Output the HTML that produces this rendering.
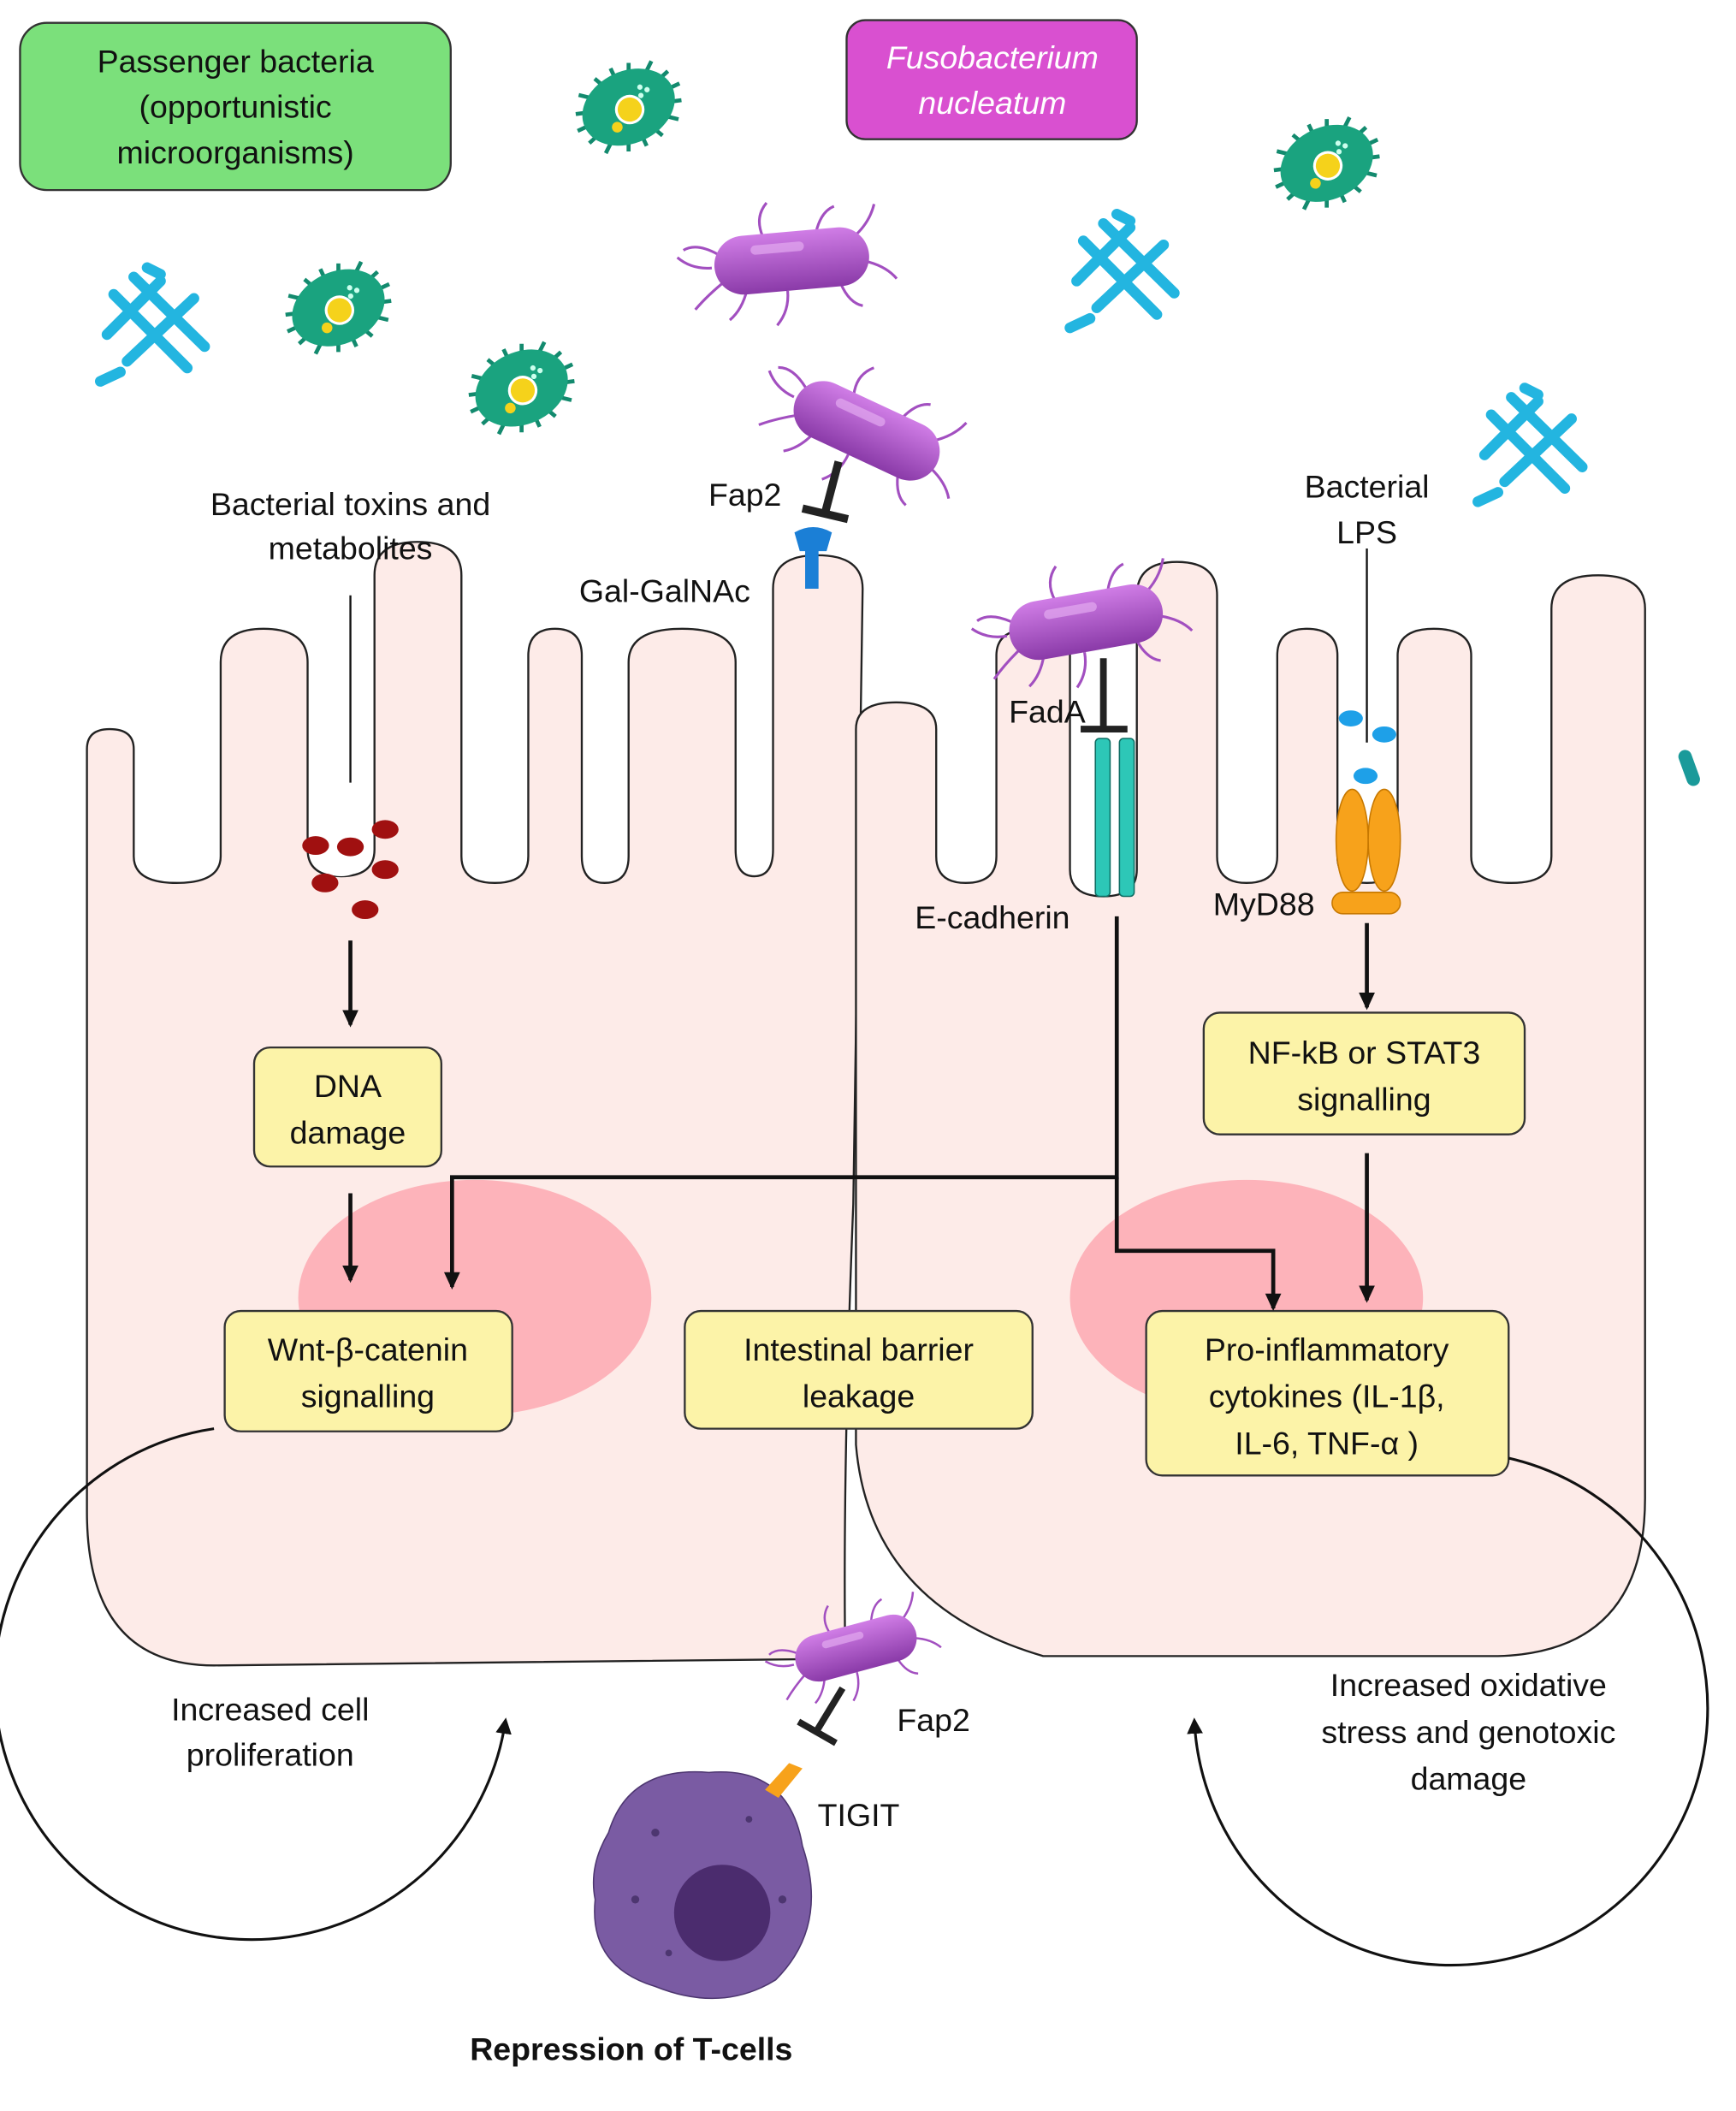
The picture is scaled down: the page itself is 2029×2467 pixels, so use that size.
<!DOCTYPE html>
<html><head><meta charset="utf-8"><style>
html,body{margin:0;padding:0;background:#fff}
svg{display:block}
text{font-family:"Liberation Sans",Arial,sans-serif;fill:#111}
</style></head><body>
<svg width="2029" height="2467" viewBox="0 0 1298 1578" xmlns="http://www.w3.org/2000/svg">
<defs>
<marker id="ah" markerWidth="14" markerHeight="14" refX="11" refY="6" orient="auto" markerUnits="userSpaceOnUse"><path d="M0,0 L13,6 L0,12 z" fill="#111"/></marker>
<marker id="ah2" markerWidth="14" markerHeight="14" refX="10" refY="6" orient="auto" markerUnits="userSpaceOnUse"><path d="M0,0 L12,6 L0,12 z" fill="#111"/></marker>
<linearGradient id="pg" x1="0" y1="0" x2="0" y2="1"><stop offset="0" stop-color="#d07de6"/><stop offset="1" stop-color="#8a3aa8"/></linearGradient>
<g id="rod">
 <g stroke="#a24fc0" stroke-width="2" fill="none">
  <path d="M-55,-10 q-15,-10 -25,-5"/><path d="M-50,10 q-15,10 -25,20"/><path d="M-35,18 q-5,15 -15,22"/><path d="M-20,-20 q-5,-15 5,-25"/><path d="M20,-20 q5,-15 15,-18"/><path d="M45,-12 q15,-10 20,-25"/><path d="M55,5 q15,5 22,15"/><path d="M35,20 q5,15 15,18"/><path d="M-5,22 q0,15 -10,25"/><path d="M-60,0 q-15,0 -25,-10"/>
 </g>
 <rect x="-58" y="-22" width="116" height="44" rx="22" fill="url(#pg)"/>
 <rect x="-30" y="-14" width="40" height="7" rx="3.5" fill="#e3a9f0" opacity=".7"/>
</g>
<g id="cocc">
 <g stroke="#138a6e" stroke-width="3">
  <line x1="-42" y1="0" x2="42" y2="0"/><line x1="0" y1="-32" x2="0" y2="32"/><line x1="-30" y1="-24" x2="30" y2="24"/><line x1="-30" y1="24" x2="30" y2="-24"/><line x1="-38" y1="-12" x2="38" y2="12"/><line x1="-38" y1="12" x2="38" y2="-12"/><line x1="-14" y1="-30" x2="14" y2="30"/><line x1="14" y1="-30" x2="-14" y2="30"/>
 </g>
 <ellipse cx="0" cy="0" rx="36" ry="27" fill="#1aa37f"/>
 <circle cx="0" cy="2" r="10" fill="#f5d21b" stroke="#fff" stroke-width="2"/>
 <circle cx="-14" cy="10" r="4" fill="#f5d21b"/>
 <circle cx="14" cy="-10" r="2" fill="#cfe"/><circle cx="18" cy="-6" r="2" fill="#cfe"/><circle cx="12" cy="-4" r="2" fill="#cfe"/>
</g>
<g id="cyan" stroke="#23b5e0" stroke-width="8" stroke-linecap="round">
 <line x1="-30" y1="-25" x2="25" y2="30"/><line x1="-15" y1="-38" x2="38" y2="14"/><line x1="-35" y1="5" x2="5" y2="-35"/><line x1="-20" y1="25" x2="30" y2="-22"/><line x1="-40" y1="40" x2="-25" y2="33"/><line x1="-5" y1="-45" x2="5" y2="-40"/>
</g>
</defs>

<!-- cells -->
<path d="M65,1130 L65,560 Q65,545 82,545 Q100,545 100,560 L100,640 Q100,660 132,660 Q165,660 165,640 L165,495 Q165,470 197,470 Q230,470 230,495 L230,635 Q230,655 255,655 Q280,655 280,635 L280,430 Q280,405 312,405 Q345,405 345,430 L345,640 Q345,660 370,660 Q395,660 395,640 L395,490 Q395,470 415,470 Q435,470 435,490 L435,640 Q435,660 452,660 Q470,660 470,640 L470,495 Q470,470 510,470 Q550,470 550,495 L550,635 Q550,655 564,655 Q578,655 578,635 L578,440 Q578,415 611,415 Q645,415 645,440 L638,900 Q630,1100 632,1240 L160,1245 Q65,1245 65,1130 Z" fill="#fdebe8" stroke="#222" stroke-width="1.5"/>
<path d="M640,1080 L640,545 Q640,525 670,525 Q700,525 700,545 L700,640 Q700,660 722,660 Q745,660 745,640 L745,490 Q745,470 772,470 Q800,470 800,490 L800,650 Q800,670 825,670 Q850,670 850,650 L850,445 Q850,420 880,420 Q910,420 910,445 L910,640 Q910,660 932,660 Q955,660 955,640 L955,490 Q955,470 977,470 Q1000,470 1000,490 L1000,640 Q1000,660 1022,660 Q1045,660 1045,640 L1045,490 Q1045,470 1072,470 Q1100,470 1100,490 L1100,640 Q1100,660 1130,660 Q1160,660 1160,640 L1160,455 Q1160,430 1195,430 Q1230,430 1230,455 L1230,1120 Q1230,1235 1120,1238 L780,1238 Q650,1200 640,1080 Z" fill="#fdebe8" stroke="#222" stroke-width="1.5"/>
<path d="M232,620 Q232,655 255,655 Q278,655 278,620 Z" fill="#fff"/>
<path d="M1002,560 Q1002,520 1022,520 Q1043,520 1043,560 L1043,640 L1002,640 Z" fill="#fff"/>

<ellipse cx="355" cy="970" rx="132" ry="88" fill="#fdb3ba"/>
<ellipse cx="932" cy="970" rx="132" ry="88" fill="#fdb3ba"/>

<!-- title boxes -->
<rect x="15" y="17" width="322" height="125" rx="20" fill="#7be07b" stroke="#333" stroke-width="1.5"/>
<text x="176" y="54" font-size="24" text-anchor="middle">Passenger bacteria</text>
<text x="176" y="88" font-size="24" text-anchor="middle">(opportunistic</text>
<text x="176" y="122" font-size="24" text-anchor="middle">microorganisms)</text>
<rect x="633" y="15" width="217" height="89" rx="14" fill="#d950d0" stroke="#333" stroke-width="1.5"/>
<text x="742" y="51" font-size="24" text-anchor="middle" font-style="italic" style="fill:#fff">Fusobacterium</text>
<text x="742" y="85" font-size="24" text-anchor="middle" font-style="italic" style="fill:#fff">nucleatum</text>

<!-- bacteria -->
<use href="#cocc" transform="translate(470,80) rotate(-25)"/>
<use href="#cocc" transform="translate(253,230) rotate(-25)"/>
<use href="#cocc" transform="translate(390,290) rotate(-25)"/>
<use href="#cocc" transform="translate(992,122) rotate(-25)"/>
<use href="#cyan" transform="translate(115,245)"/>
<use href="#cyan" transform="translate(840,205)"/>
<use href="#cyan" transform="translate(1145,335)"/>
<rect x="1258" y="560" width="10" height="28" rx="5" fill="#1a9a9a" transform="rotate(-20 1263 574)"/>
<use href="#rod" transform="translate(592,195) rotate(-5)"/>
<use href="#rod" transform="translate(648,322) rotate(25)"/>
<use href="#rod" transform="translate(812,465) rotate(-10)"/>
<use href="#rod" transform="translate(640,1232) rotate(-15) scale(.8)"/>

<!-- yellow boxes -->
<g fill="#fcf3a8" stroke="#333" stroke-width="1.5">
<rect x="190" y="783" width="140" height="89" rx="12"/>
<rect x="168" y="980" width="215" height="90" rx="12"/>
<rect x="512" y="980" width="260" height="88" rx="12"/>
<rect x="900" y="757" width="240" height="91" rx="12"/>
<rect x="857" y="980" width="271" height="123" rx="12"/>
</g>
<g font-size="24" text-anchor="middle">
<text x="260" y="820">DNA</text><text x="260" y="855">damage</text>
<text x="275" y="1017">Wnt-β-catenin</text><text x="275" y="1052">signalling</text>
<text x="642" y="1017">Intestinal barrier</text><text x="642" y="1052">leakage</text>
<text x="1020" y="795">NF-kB or STAT3</text><text x="1020" y="830">signalling</text>
<text x="992" y="1017">Pro-inflammatory</text><text x="992" y="1052">cytokines (IL-1β,</text><text x="992" y="1087">IL-6, TNF-α )</text>
</g>

<!-- toxins -->
<line x1="262" y1="445" x2="262" y2="585" stroke="#111" stroke-width="1.5"/>
<g fill="#a01010">
<ellipse cx="236" cy="632" rx="10" ry="7"/><ellipse cx="262" cy="633" rx="10" ry="7"/><ellipse cx="288" cy="620" rx="10" ry="7"/><ellipse cx="243" cy="660" rx="10" ry="7"/><ellipse cx="288" cy="650" rx="10" ry="7"/><ellipse cx="273" cy="680" rx="10" ry="7"/>
</g>
<text x="262" y="385" font-size="24" text-anchor="middle">Bacterial toxins and</text>
<text x="262" y="418" font-size="24" text-anchor="middle">metabolites</text>

<!-- arrows -->
<g stroke="#111" stroke-width="3" fill="none" marker-end="url(#ah)">
<line x1="262" y1="703" x2="262" y2="766"/>
<line x1="262" y1="892" x2="262" y2="957"/>
<path d="M835,685 L835,880 L338,880 L338,962"/>
<path d="M835,880 L835,935 L952,935 L952,978"/>
<line x1="1022" y1="690" x2="1022" y2="753"/>
<line x1="1022" y1="862" x2="1022" y2="972"/>
</g>
<g stroke="#111" stroke-width="2" fill="none" marker-end="url(#ah2)">
<path d="M160,1068 A192,192 0 1 0 378,1286"/>
<path d="M1128,1090 A192,192 0 1 1 893,1286"/>
</g>

<!-- Fap2 / Gal-GalNAc -->
<line x1="627" y1="345" x2="617" y2="383" stroke="#222" stroke-width="6"/>
<line x1="600" y1="380" x2="634" y2="388" stroke="#222" stroke-width="6"/>
<path d="M594,398 Q608,390 622,398 L618,412 L612,412 L612,440 L602,440 L602,412 L598,412 Z" fill="#1b7fd6"/>
<text x="557" y="378" font-size="24" text-anchor="middle">Fap2</text>
<text x="497" y="450" font-size="24" text-anchor="middle">Gal-GalNAc</text>

<!-- FadA / E-cadherin -->
<line x1="825" y1="492" x2="825" y2="543" stroke="#222" stroke-width="5"/>
<line x1="808" y1="545" x2="843" y2="545" stroke="#222" stroke-width="5"/>
<rect x="819" y="552" width="11" height="118" rx="3" fill="#2dc7b7" stroke="#0d6d63"/>
<rect x="837" y="552" width="11" height="118" rx="3" fill="#2dc7b7" stroke="#0d6d63"/>
<text x="783" y="540" font-size="24" text-anchor="middle">FadA</text>
<text x="742" y="694" font-size="24" text-anchor="middle">E-cadherin</text>

<!-- LPS / MyD88 -->
<line x1="1022" y1="410" x2="1022" y2="555" stroke="#111" stroke-width="1.5"/>
<ellipse cx="1010" cy="537" rx="9" ry="6" fill="#1ea0e8"/><ellipse cx="1035" cy="549" rx="9" ry="6" fill="#1ea0e8"/><ellipse cx="1021" cy="580" rx="9" ry="6" fill="#1ea0e8"/>
<ellipse cx="1011" cy="628" rx="12" ry="38" fill="#f7a21b" stroke="#c77800"/>
<ellipse cx="1035" cy="628" rx="12" ry="38" fill="#f7a21b" stroke="#c77800"/>
<rect x="996" y="667" width="51" height="16" rx="8" fill="#f7a21b" stroke="#c77800"/>
<text x="1022" y="372" font-size="24" text-anchor="middle">Bacterial</text>
<text x="1022" y="406" font-size="24" text-anchor="middle">LPS</text>
<text x="945" y="684" font-size="24" text-anchor="middle">MyD88</text>

<!-- T cell -->
<path d="M455,1370 Q470,1320 530,1325 Q590,1320 600,1380 Q620,1440 580,1480 Q540,1505 490,1485 Q440,1470 445,1420 Q440,1395 455,1370 Z" fill="#7a5ba3" stroke="#4d3670"/>
<circle cx="540" cy="1430" r="36" fill="#4b2c6e"/>
<g fill="#4d3670"><circle cx="490" cy="1370" r="3"/><circle cx="475" cy="1420" r="3"/><circle cx="560" cy="1360" r="2.5"/><circle cx="585" cy="1420" r="3"/><circle cx="500" cy="1460" r="2.5"/></g>
<path d="M572,1338 L590,1318 L600,1322 L582,1344 Z" fill="#f7a21b"/>
<line x1="630" y1="1262" x2="610" y2="1295" stroke="#222" stroke-width="5"/>
<line x1="597" y1="1287" x2="625" y2="1303" stroke="#222" stroke-width="5"/>
<text x="698" y="1294" font-size="24" text-anchor="middle">Fap2</text>
<text x="642" y="1365" font-size="24" text-anchor="middle">TIGIT</text>

<text x="202" y="1286" font-size="24" text-anchor="middle">Increased cell</text>
<text x="202" y="1320" font-size="24" text-anchor="middle">proliferation</text>
<text x="1098" y="1268" font-size="24" text-anchor="middle">Increased oxidative</text>
<text x="1098" y="1303" font-size="24" text-anchor="middle">stress and genotoxic</text>
<text x="1098" y="1338" font-size="24" text-anchor="middle">damage</text>
<text x="472" y="1540" font-size="24" font-weight="bold" text-anchor="middle">Repression of T-cells</text>
</svg>
</body></html>
